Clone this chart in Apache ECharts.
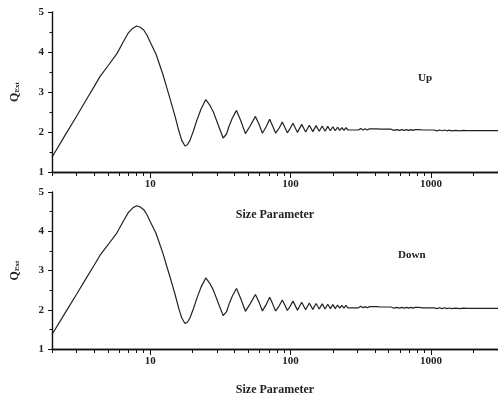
<!DOCTYPE html>
<html><head><meta charset="utf-8">
<script src="https://cdn.jsdelivr.net/npm/echarts@6/dist/echarts.min.js"></script>
<style>html,body{margin:0;padding:0;background:#fff}#c{width:498px;height:397px}</style>
</head><body><div id="c"></div>
<script>
// Size parameter (x)
const sizeParam = [2, 2.5, 3, 3.5, 4, 4.4, 5, 5.8, 6.5, 7, 7.5, 8.0, 8.5, 9, 9.5, 10, 11, 11.5, 12.3, 13.1, 14, 15.1, 16, 16.8, 17.7, 18.4, 19.2, 20.3, 21.5, 23, 24.9, 26.5, 28.2, 30.5, 33.1, 35, 36.5, 38.5, 41.2, 44, 47.7, 51.5, 56.2, 59.5, 63, 67, 71, 74.5, 78.3, 83, 87.3, 91, 94.8, 99, 104,
  112, 120, 128, 136, 144, 152, 160, 168, 176, 184, 192, 200, 208, 216, 224, 232, 240, 248, 256, 264, 272, 280, 288, 296, 304,
  316, 328, 340, 352, 364, 376, 388, 400, 412, 424, 436, 448, 460, 472, 484, 496, 520, 545, 570, 595, 620, 645, 670, 695, 720, 745, 770, 795, 820, 845, 870, 895, 920, 945, 970,
  1000, 1050, 1100, 1150, 1200, 1250, 1300, 1350, 1400, 1500, 1600, 1700, 1800, 2000, 2500, 3000];
// Extinction efficiency Q_Ext
const qExt = [1.37, 1.94, 2.40, 2.80, 3.14, 3.39, 3.65, 3.96, 4.28, 4.48, 4.59, 4.65, 4.62, 4.55, 4.42, 4.25, 3.95, 3.75, 3.45, 3.12, 2.78, 2.37, 2.03, 1.79, 1.65, 1.68, 1.79, 2.02, 2.29, 2.57, 2.81, 2.68, 2.50, 2.18, 1.85, 1.95, 2.15, 2.35, 2.54, 2.30, 1.96, 2.15, 2.39, 2.20, 1.97, 2.13, 2.32, 2.15, 1.97, 2.10, 2.25, 2.12, 1.98, 2.08, 2.22,
  1.99, 2.19, 2.00, 2.17, 2.01, 2.16, 2.02, 2.15, 2.02, 2.14, 2.03, 2.13, 2.03, 2.12, 2.04, 2.11, 2.04, 2.11, 2.05, 2.10, 2.05, 2.10, 2.05, 2.09, 2.05,
  2.09, 2.05, 2.08, 2.05, 2.08, 2.05, 2.08, 2.05, 2.08, 2.05, 2.07, 2.05, 2.07, 2.04, 2.07, 2.04, 2.07, 2.04, 2.06, 2.04, 2.06, 2.04, 2.06, 2.04, 2.06, 2.04, 2.06, 2.04, 2.06, 2.03, 2.05, 2.03, 2.05, 2.03, 2.05,
  2.03, 2.05, 2.03, 2.05, 2.03, 2.05, 2.03, 2.045, 2.03, 2.04, 2.03, 2.04, 2.035, 2.035, 2.035, 2.035];
const majorTicks = [10, 100, 1000];
const minorTicks = [2, 3, 4, 5, 6, 7, 8, 9, 20, 30, 40, 50, 60, 70, 80, 90, 200, 300, 400, 500, 600, 700, 800, 900, 2000, 3000];
const panelLabels = ['Up', 'Down'];
const xTitle = 'Size Parameter';

const FONT = 'Liberation Serif';
const points = sizeParam.map((x, i) => [x, qExt[i]]);

const grids = [
  {left: 52, top: 12, width: 447, height: 160},
  {left: 52, top: 192, width: 447, height: 158}
];

const xAxes = [], yAxes = [], series = [], graphics = [];
grids.forEach((g, gi) => {
  xAxes.push({
    type: 'log', logBase: 10, min: 2, max: 3000, gridIndex: gi, position: 'bottom',
    axisLine: {show: true, lineStyle: {color: '#111', width: 1.4}},
    axisTick: {show: true, customValues: minorTicks, length: 4},
    axisLabel: {show: false}, splitLine: {show: false}
  });
  xAxes.push({
    type: 'log', logBase: 10, min: 2, max: 3000, gridIndex: gi, position: 'bottom',
    axisLine: {show: true, lineStyle: {color: '#111', width: 1.4}},
    axisTick: {show: true, customValues: majorTicks, length: 6},
    axisLabel: {show: true, customValues: majorTicks, margin: 7, fontFamily: FONT, fontWeight: 'bold', fontSize: 11, color: '#222',
      formatter: v => String(Math.round(v))},
    splitLine: {show: false},
    name: xTitle, nameLocation: 'middle', nameGap: gi === 0 ? 37 : 35,
    nameTextStyle: {fontFamily: FONT, fontWeight: 'bold', fontSize: 12, color: '#222'}
  });
  yAxes.push({
    type: 'value', min: 1, max: 5, interval: 1, gridIndex: gi,
    axisLine: {show: true, lineStyle: {color: '#111', width: 1.4}},
    axisTick: {show: true, length: 4},
    minorTick: {show: true, splitNumber: 2, length: 2.5, lineStyle: {color: '#111'}},
    axisLabel: {margin: 8, fontFamily: FONT, fontWeight: 'bold', fontSize: 11, color: '#222'},
    splitLine: {show: false},
    name: '{q|Q}{s|Ext}', nameLocation: 'middle', nameGap: 31, nameRotate: 90,
    nameTextStyle: {rich: {
      q: {fontFamily: FONT, fontWeight: 'bold', fontSize: 12, color: '#222'},
      s: {fontFamily: FONT, fontWeight: 'bold', fontSize: 7, color: '#222', verticalAlign: 'bottom', padding: [6, 0, 0, 0]}
    }}
  });
  series.push({
    type: 'line', xAxisIndex: gi * 2, yAxisIndex: gi, data: points,
    showSymbol: false, symbol: 'none', smooth: false,
    lineStyle: {color: '#222', width: 1.2}
  });
});

graphics.push({type: 'text', left: 418, top: 73, style: {text: panelLabels[0], fontFamily: FONT, fontWeight: 'bold', fontSize: 11, fill: '#222'}});
graphics.push({type: 'text', left: 398, top: 250, style: {text: panelLabels[1], fontFamily: FONT, fontWeight: 'bold', fontSize: 11, fill: '#222'}});

const chart = echarts.init(document.getElementById('c'), null, {renderer: 'canvas'});
chart.setOption({
  animation: false,
  backgroundColor: '#fff',
  grid: grids,
  xAxis: xAxes,
  yAxis: yAxes,
  series: series,
  graphic: graphics
});
</script>
</body></html>
